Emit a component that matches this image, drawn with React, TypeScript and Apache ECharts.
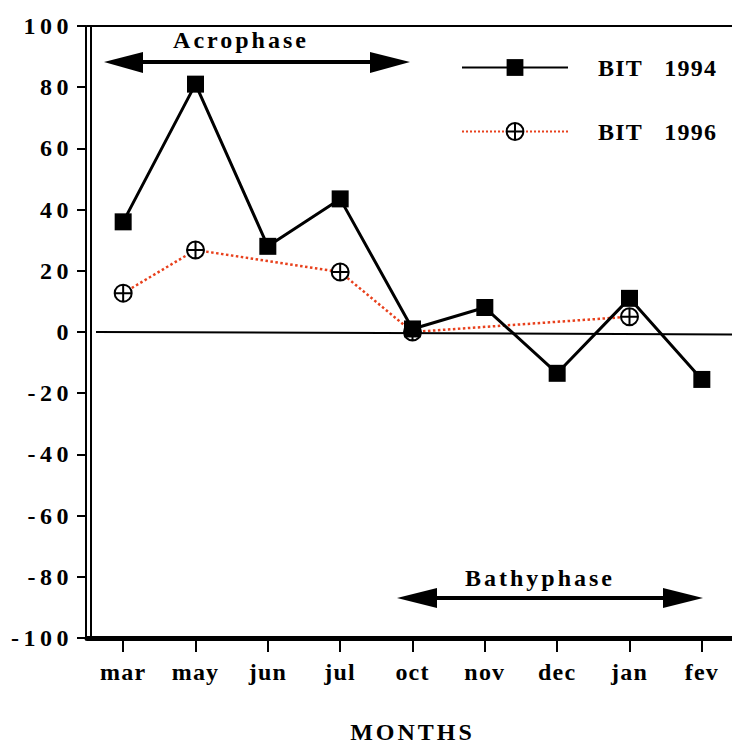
import React, { useEffect, useRef } from "react";
import * as echarts from "echarts";

const categories = ["mar", "may", "jun", "jul", "oct", "nov", "dec", "jan", "fev"];
const bit1994 = [36, 81, 28, 43.5, 1, 8, -13.5, 11, -15.5];
const bit1996 = [12.7, 26.8, null, 19.6, 0, null, null, 5, null];
const seriesNames = ["BIT 1994", "BIT 1996"];
const yMin = -100;
const yMax = 100;
const yInterval = 20;

const FONT = "Liberation Serif";
const circlePlus =
  "path://M1,10 A9,9 0 1,1 19,10 A9,9 0 1,1 1,10 Z M10,1 L10,19 M1,10 L19,10";

export default function App() {
  const ref = useRef<HTMLDivElement>(null);
  useEffect(() => {
    if (!ref.current) return;
    const chart = echarts.init(ref.current, null, { renderer: "svg" });
    const labelBase = { color: "#000", fontFamily: FONT, fontWeight: "bold" as const };
    chart.setOption({
      animation: false,
      backgroundColor: "#fff",
      grid: { left: 87, top: 26, width: 651, height: 612, outerBoundsMode: "none", containLabel: false },
      legend: {
        orient: "vertical",
        left: 461,
        top: 55.5,
        padding: 0,
        itemWidth: 106,
        itemHeight: 21,
        itemGap: 40,
        data: seriesNames,
        formatter: (name: string) => {
          const p = name.split(" ");
          return `{a|${p[0]}}{b|${p[1]}}`;
        },
        textStyle: {
          ...labelBase,
          fontSize: 24,
          rich: {
            a: { ...labelBase, fontSize: 24, padding: [0, 0, 0, 25] },
            b: { ...labelBase, fontSize: 24, padding: [0, 0, 0, 25] },
          },
        },
      },
      xAxis: [
        {
          type: "category",
          data: categories,
          position: "bottom",
          axisLine: { onZero: false, lineStyle: { color: "#000", width: 5 } },
          axisTick: { show: true, inside: false, alignWithLabel: true, length: 14, lineStyle: { color: "#000", width: 2 } },
          axisLabel: { ...labelBase, fontSize: 24, margin: 22 },
          name: "MONTHS",
          nameLocation: "middle",
          nameGap: 82,
          nameTextStyle: { ...labelBase, fontWeight: 800, fontSize: 24 },
        },
        {
          type: "category",
          data: categories,
          position: "top",
          axisLine: { onZero: false, lineStyle: { color: "#000", width: 2 } },
          axisTick: { show: false },
          axisLabel: { show: false },
        },
      ],
      yAxis: [
        {
          type: "value",
          min: yMin,
          max: yMax,
          interval: yInterval,
          position: "left",
          offset: 1,
          axisLine: { show: true, onZero: false, lineStyle: { color: "#000", width: 2 } },
          axisTick: { show: true, length: 9, lineStyle: { color: "#000", width: 2 } },
          axisLabel: { ...labelBase, fontWeight: 900, fontSize: 24, margin: 13 },
          splitLine: { show: false },
        },
        {
          type: "value",
          min: yMin,
          max: yMax,
          interval: yInterval,
          position: "left",
          offset: -4,
          axisLine: { show: true, onZero: false, lineStyle: { color: "#000", width: 2 } },
          axisTick: { show: false },
          axisLabel: { show: false },
          splitLine: { show: false },
        },
      ],
      series: [
        {
          name: seriesNames[0],
          type: "line",
          data: bit1994,
          symbol: "rect",
          symbolSize: 17,
          itemStyle: { color: "#000" },
          lineStyle: { color: "#000", width: 3 },
          z: 5,
          markLine: {
            silent: true,
            symbol: "none",
            label: { show: false },
            lineStyle: { color: "#000", width: 2, type: "solid" },
            data: [[{ xAxis: "mar", yAxis: 0, x: 96 }, { xAxis: "fev", yAxis: -0.8, x: 732 }]],
          },
        },
        {
          name: seriesNames[1],
          type: "line",
          data: bit1996,
          connectNulls: true,
          symbol: circlePlus,
          symbolSize: 17,
          itemStyle: { color: "#fff", borderColor: "#000", borderWidth: 2 },
          lineStyle: { color: "#e8401c", width: 2.5, type: "dotted" },
          z: 4,
        },
      ],
      graphic: [
        {
          type: "text",
          x: 241,
          y: 40,
          style: { text: "Acrophase", font: `800 24px "${FONT}"`, fill: "#000", align: "center", verticalAlign: "middle" },
        },
        { type: "line", shape: { x1: 138, y1: 62, x2: 375, y2: 62 }, style: { stroke: "#000", lineWidth: 4 } },
        { type: "polygon", shape: { points: [[104, 62], [143, 52], [143, 73]] }, style: { fill: "#000" } },
        { type: "polygon", shape: { points: [[410, 62], [370, 52], [370, 73]] }, style: { fill: "#000" } },
        {
          type: "text",
          x: 540,
          y: 578,
          style: { text: "Bathyphase", font: `800 24px "${FONT}"`, fill: "#000", align: "center", verticalAlign: "middle" },
        },
        { type: "line", shape: { x1: 432, y1: 598, x2: 668, y2: 598 }, style: { stroke: "#000", lineWidth: 4 } },
        { type: "polygon", shape: { points: [[397, 598], [437, 588], [437, 608]] }, style: { fill: "#000" } },
        { type: "polygon", shape: { points: [[703, 598], [663, 588], [663, 608]] }, style: { fill: "#000" } },
      ],
    });
    return () => chart.dispose();
  }, []);
  return (
    <>
      <style>{`#chart text{letter-spacing:1.2px}#chart text[style*="800"]{letter-spacing:3px}#chart text[style*="900"]{letter-spacing:4.5px}`}</style>
      <div
        id="chart"
        ref={ref}
        style={{ position: "absolute", left: 0, top: 0, width: 732, height: 744 }}
      />
    </>
  );
}
